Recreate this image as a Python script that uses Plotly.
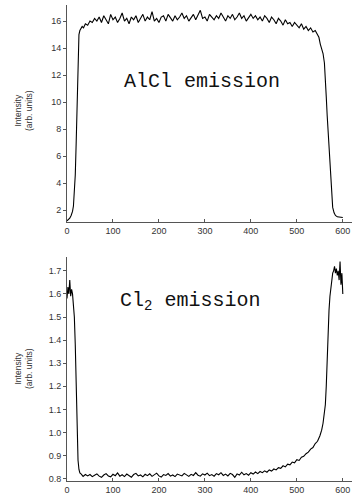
import plotly.graph_objects as go

# ---------------- data ----------------
alcl_x = [0, 3, 6, 9, 12, 14, 16, 18, 20, 22, 24, 26, 28, 30, 33, 36, 40, 45, 50,
          55, 60, 65, 70, 75, 80, 85, 90, 95, 100, 105, 110, 115, 120, 125, 130, 135, 140,
          145, 150, 155, 160, 165, 170, 175, 180, 185, 190, 195, 200, 205, 210, 215, 220,
          225, 230, 235, 240, 245, 250, 255, 260, 265, 270, 275, 280, 285, 290, 295, 300,
          305, 310, 315, 320, 325, 330, 335, 340, 345, 350, 355, 360, 365, 370, 375, 380,
          385, 390, 395, 400, 405, 410, 415, 420, 425, 430, 435, 440, 445, 450, 455, 460,
          465, 470, 475, 480, 485, 490, 495, 500, 505, 510, 515, 520, 525, 530, 535, 540,
          545, 548, 551, 554, 557, 560, 562, 564, 566, 568, 570, 572, 574, 576, 578, 581,
          584, 588, 592, 596, 600]
alcl_y = [1.2, 1.3, 1.4, 1.6, 1.9, 2.3, 3.2, 4.6, 7.0, 10.2, 13.6, 15.0, 15.3, 15.4, 15.6,
          15.5, 15.8, 15.7, 16.0,
          15.9, 16.2, 16.0, 16.3, 15.9, 16.4, 16.1, 15.8, 16.5, 16.1, 16.3, 15.9, 16.2, 16.6,
          16.0, 16.2, 15.8, 16.3, 16.1, 16.4, 15.9, 16.2, 16.5, 16.0, 16.3, 16.1, 16.7, 16.0,
          16.2, 15.9, 16.3, 16.4, 16.0, 16.5, 16.2, 16.0, 16.4, 16.1, 16.3, 16.6, 16.2, 16.4,
          16.0, 16.3, 16.5, 16.1, 16.4, 16.8, 16.2, 16.3, 16.0, 16.5, 16.3, 16.1, 16.4, 16.2,
          16.6, 16.3, 16.0, 16.4, 16.2, 16.5, 16.1, 16.3, 16.6, 16.2, 16.4, 16.0, 16.3, 16.5,
          16.2, 16.4, 16.1, 16.3, 16.0, 16.4, 16.2, 15.9, 16.3, 16.1, 15.8, 16.2, 16.0, 15.7,
          16.1, 15.8, 15.9, 15.6, 15.9, 15.7, 15.5, 15.8, 15.4, 15.6, 15.3, 15.5, 15.2, 15.3,
          15.0, 14.8, 14.3, 14.0, 13.6, 12.9, 12.0, 10.4, 9.0, 7.8, 6.5, 5.0, 3.8, 2.8, 2.2,
          1.8, 1.6, 1.5, 1.5, 1.45, 1.45]

cl2_x = [0, 2, 4, 6, 8, 10, 12, 14, 16, 18, 20, 22, 24, 26, 28, 31, 35, 40,
         45, 50, 55, 60, 65, 70, 75, 80, 85, 90, 95, 100, 105, 110, 115, 120, 125, 130, 135,
         140, 145, 150, 155, 160, 165, 170, 175, 180, 185, 190, 195, 200, 205, 210, 215, 220,
         225, 230, 235, 240, 245, 250, 255, 260, 265, 270, 275, 280, 285, 290, 295, 300, 305,
         310, 315, 320, 325, 330, 335, 340, 345, 350, 355, 360, 365, 370, 375, 380, 385, 390,
         395, 400, 405, 410, 415, 420, 425, 430, 435, 440, 445, 450, 455, 460, 465, 470, 475,
         480, 485, 490, 495, 500, 505, 510, 515, 520, 525, 530, 535, 540, 545, 550, 554, 557,
         560, 562, 564, 566, 568, 570, 572, 574, 576, 578, 580, 582, 584, 586, 588, 590, 592,
         594, 596, 598, 600]
cl2_y = [1.58, 1.63, 1.60, 1.66, 1.59, 1.62, 1.60, 1.55, 1.50, 1.38, 1.18, 0.98, 0.88,
         0.84, 0.825, 0.82, 0.81, 0.818,
         0.812, 0.818, 0.809, 0.815, 0.821, 0.811, 0.806, 0.816, 0.822, 0.812, 0.808, 0.819,
         0.813, 0.825, 0.811, 0.817, 0.809, 0.820, 0.814, 0.806, 0.818, 0.823, 0.812, 0.816,
         0.808, 0.819, 0.813, 0.821, 0.810, 0.817, 0.824, 0.812, 0.807, 0.818, 0.814, 0.822,
         0.811, 0.816, 0.809, 0.820, 0.815, 0.812, 0.823, 0.817, 0.810, 0.819, 0.814, 0.826,
         0.815, 0.811, 0.821, 0.816, 0.824, 0.813, 0.818, 0.811, 0.822, 0.817, 0.826, 0.814,
         0.820, 0.812, 0.823, 0.818, 0.806, 0.821, 0.816, 0.828, 0.817, 0.822, 0.815, 0.826,
         0.820, 0.829, 0.822, 0.831, 0.826, 0.834, 0.828, 0.838, 0.833, 0.842, 0.838, 0.848,
         0.845, 0.856, 0.851, 0.863, 0.860, 0.872, 0.869, 0.882, 0.879, 0.893, 0.897, 0.908,
         0.915, 0.928, 0.935, 0.952, 0.962, 0.985, 1.01, 1.04, 1.08, 1.12, 1.20, 1.32, 1.45,
         1.53, 1.59, 1.63, 1.66, 1.69, 1.70, 1.72, 1.69, 1.71, 1.68, 1.70, 1.66, 1.74, 1.64,
         1.69, 1.60]

alcl_ticks = [2, 4, 6, 8, 10, 12, 14, 16]
cl2_ticks = [0.8, 0.9, 1.0, 1.1, 1.2, 1.3, 1.4, 1.5, 1.6, 1.7]
x_ticks = [0, 100, 200, 300, 400, 500, 600]

# ---------------- figure ----------------
W, H = 357, 499
def fy(px):
    return (H - px) / H

fig = go.Figure()
fig.add_trace(go.Scatter(x=alcl_x, y=alcl_y, mode="lines",
                         line=dict(color="black", width=1.1), xaxis="x", yaxis="y"))
fig.add_trace(go.Scatter(x=cl2_x, y=cl2_y, mode="lines",
                         line=dict(color="black", width=1.1), xaxis="x2", yaxis="y2"))

tickfont = dict(family="Liberation Sans, Arial, sans-serif", size=9, color="#333")
common = dict(showgrid=False, zeroline=False, showline=True, linecolor="#555",
              linewidth=1, tickfont=tickfont, tickcolor="#555", mirror=False,
              automargin=False)
xcommon = dict(ticks="inside", ticklen=3, **common)
ycommon = dict(ticks="outside", ticklen=3, **common)

xdom = [67 / W, 352 / W]
fig.update_layout(
    width=W, height=H, margin=dict(l=0, r=0, t=0, b=0, autoexpand=False),
    paper_bgcolor="white", plot_bgcolor="white", showlegend=False,
    xaxis=dict(domain=xdom, range=[0, 620], tickvals=x_ticks, anchor="y", **xcommon),
    yaxis=dict(domain=[fy(221.7), fy(4.9)], range=[1.14, 17.2], tickvals=alcl_ticks,
               anchor="x", **ycommon),
    xaxis2=dict(domain=xdom, range=[0, 620], tickvals=x_ticks, anchor="y2", **xcommon),
    yaxis2=dict(domain=[fy(481), fy(257)], range=[0.79, 1.76], tickvals=cl2_ticks,
                tickformat=".1f", anchor="x2", **ycommon),
)

ann_font = dict(family="Liberation Mono, Courier New, monospace", size=20, color="#111")
title_font = dict(family="Liberation Sans, Arial, sans-serif", size=8.5, color="#333")
fig.add_annotation(x=122 / W, y=fy(81), xref="paper", yref="paper", xanchor="left",
                   yanchor="middle", text="AlCl emission", showarrow=False, font=ann_font)
fig.add_annotation(x=118 / W, y=fy(302), xref="paper", yref="paper", xanchor="left",
                   yanchor="middle", text="Cl<sub>2</sub> emission", showarrow=False,
                   font=ann_font)
fig.add_annotation(x=23 / W, y=fy(110), xref="paper", yref="paper", xanchor="center",
                   yanchor="middle", text="Intensity<br>(arb. units)", textangle=-90,
                   showarrow=False, font=title_font)
fig.add_annotation(x=23 / W, y=fy(368), xref="paper", yref="paper", xanchor="center",
                   yanchor="middle", text="Intensity<br>(arb. units)", textangle=-90,
                   showarrow=False, font=title_font)

fig.write_html("out.html", config={"displayModeBar": False},
               post_script="document.body.style.margin='0px';")
